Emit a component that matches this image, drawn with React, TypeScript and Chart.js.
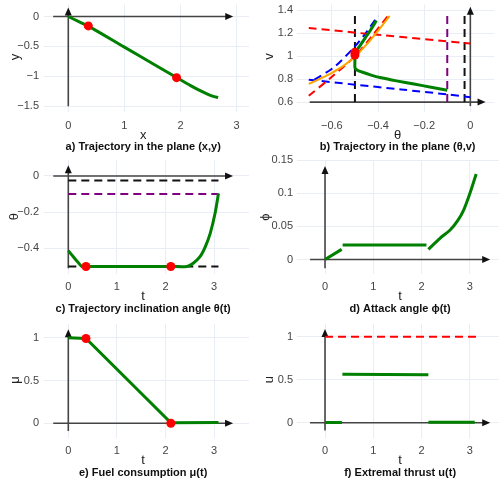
import React, { useEffect, useRef } from "react";
import { Chart, registerables } from "chart.js";

Chart.register(...registerables);

const W = 499;
const H = 486;
const FONT = "'Liberation Sans', Arial, Helvetica, sans-serif";
const GRID = "#e9eef6";
const AXIS = "#444444";

// ---------- a) Trajectory in the plane (x,y)
const aTicksX = [0, 1, 2, 3];
const aTicksY = [0, -0.5, -1, -1.5];
const aPathX = [0, 0.18, 0.357, 1.0, 1.5, 1.93, 2.18, 2.35, 2.5, 2.6, 2.67];
const aPathY = [0, -0.082, -0.16, -0.511, -0.784, -1.02, -1.156, -1.24, -1.305, -1.338, -1.355];
const aDotX = [0.357, 1.93];
const aDotY = [-0.157, -1.022];

// ---------- b) Trajectory in the plane (theta,v)
const bTicksX = [-0.6, -0.4, -0.2, 0];
const bTicksY = [0.6, 0.8, 1, 1.2, 1.4];
const bGreenTheta = [-0.407, -0.43, -0.455, -0.48, -0.5, -0.5, -0.5, -0.49, -0.47, -0.43, -0.386, -0.32, -0.244, -0.17, -0.1];
const bGreenV = [1.311, 1.235, 1.16, 1.085, 1.03, 0.96, 0.9, 0.878, 0.862, 0.835, 0.812, 0.785, 0.757, 0.73, 0.703];
const bOrangeTheta = [-0.7, -0.65, -0.6, -0.55, -0.5, -0.45, -0.4, -0.35];
const bOrangeV = [0.758, 0.805, 0.855, 0.915, 0.995, 1.1, 1.22, 1.35];
const bRedFlatTheta = [-0.7, -0.4, 0];
const bRedFlatV = [1.245, 1.186, 1.11];
const bRedSteepTheta = [-0.7, -0.6, -0.5, -0.42, -0.357];
const bRedSteepV = [0.655, 0.82, 1.0, 1.19, 1.352];
const bBlueFlatTheta = [-0.7, -0.5, -0.3, -0.1, 0];
const bBlueFlatV = [0.795, 0.752, 0.71, 0.667, 0.642];
const bBlueSteepTheta = [-0.675, -0.59, -0.5, -0.45, -0.4];
const bBlueSteepV = [0.795, 0.905, 1.085, 1.21, 1.352];
const bVertBlack = [-0.5, -0.025];
const bVertPurple = [-0.1];
const bVertSpan = [0.6, 1.37];
const bDotTheta = [-0.5, -0.5];
const bDotV = [1.035, 1.01];

// ---------- c) Trajectory inclination angle theta(t)
const cTicksX = [0, 1, 2, 3];
const cTicksY = [0, -0.2, -0.4];
const cT = [0, 0.1, 0.2, 0.28, 0.364, 1.0, 2.11, 2.44, 2.57, 2.71, 2.82, 2.92, 3.02, 3.09];
const cTheta = [-0.413, -0.445, -0.477, -0.5, -0.5, -0.5, -0.5, -0.5, -0.482, -0.446, -0.39, -0.317, -0.206, -0.096];
const cDotT = [0.364, 2.11];
const cDotTheta = [-0.5, -0.5];
const cHorizBlack = [-0.025, -0.5];
const cHorizPurple = [-0.1];
const cHorizSpan = [0, 3.09];

// ---------- d) Attack angle phi(t)
const dTicksX = [0, 1, 2, 3];
const dTicksY = [0, 0.05, 0.1, 0.15];
const dT1 = [0, 0.345];
const dPhi1 = [0, 0.0153];
const dT2 = [0.365, 2.1];
const dPhi2 = [0.022, 0.022];
const dT3 = [2.14, 2.38, 2.59, 2.75, 2.87, 3.0, 3.13];
const dPhi3 = [0.0154, 0.032, 0.0445, 0.059, 0.0745, 0.0997, 0.129];

// ---------- e) Fuel consumption mu(t)
const eTicksX = [0, 1, 2, 3];
const eTicksY = [0, 0.5, 1];
const eT = [0, 0.364, 2.11, 3.09];
const eMu = [1.0, 0.99, 0.005, 0.01];
const eDotT = [0.364, 2.11];
const eDotMu = [0.99, 0.0];

// ---------- f) Extremal thrust u(t)
const fTicksX = [0, 1, 2, 3];
const fTicksY = [0, 0.5, 1];
const fT1 = [0, 0.35];
const fU1 = [0.002, 0.002];
const fT2 = [0.36, 2.14];
const fU2 = [0.565, 0.557];
const fT3 = [2.14, 3.1];
const fU3 = [0.006, 0.006];
const fLimitT = [0, 3.13];
const fLimitU = [1, 1];

const pts = (xs: number[], ys: number[]) => xs.map((x, i) => ({ x, y: ys[i] }));

const line = (xs: number[], ys: number[], color: string, width: number, dash: number[] = [], order = 2, tension = 0) => ({
  data: pts(xs, ys),
  showLine: true,
  borderColor: color,
  backgroundColor: color,
  borderWidth: width,
  borderDash: dash,
  borderCapStyle: "butt",
  pointRadius: 0,
  pointHoverRadius: 0,
  tension,
  order,
});

const dots = (xs: number[], ys: number[]) => ({
  data: pts(xs, ys),
  showLine: false,
  pointRadius: 4.5,
  pointHoverRadius: 4.5,
  pointBackgroundColor: "red",
  pointBorderWidth: 0,
  order: 0,
});

const DASH = [8, 5];

const vLines = (xs: number[], span: number[], color: string) =>
  xs.map((x) => line([x, x], span, color, 2, DASH, 3));
const hLines = (ys: number[], span: number[], color: string) =>
  ys.map((y) => line(span, [y, y], color, 2, DASH, 3));

type Panel = {
  key: string;
  colLeft: number;
  box: { left: number; top: number; right: number; bottom: number };
  xMin: number; xMax: number; yMin: number; yMax: number;
  xTicks: number[]; yTicks: number[];
  axisX: { at: number; from: number; to: number };
  axisY: { at: number; from: number; to: number };
  xTitle: string; yTitle: string; caption: string;
  yTitleX: number; yPad: number;
  datasets: any[];
};

const panels: Panel[] = [
  {
    key: "a",
    colLeft: 0,
    box: { left: 44, top: 0, right: 249, bottom: 112 },
    xMin: -0.433, xMax: 3.221, yMin: -1.596, yMax: 0.201,
    xTicks: aTicksX, yTicks: aTicksY,
    axisX: { at: 0, from: -0.27, to: 2.94 },
    axisY: { at: 0, from: -1.5, to: 0.15 },
    xTitle: "x", yTitle: "y", caption: "a) Trajectory in the plane (x,y)",
    yTitleX: 15, yPad: 5,
    datasets: [line(aPathX, aPathY, "green", 3, [], 1, 0.3), dots(aDotX, aDotY)],
  },
  {
    key: "b",
    colLeft: 250,
    box: { left: 297, top: 0, right: 499, bottom: 112 },
    xMin: -0.751, xMax: 0.1047, yMin: 0.5138, yMax: 1.45,
    xTicks: bTicksX, yTicks: bTicksY,
    axisX: { at: 0.6, from: -0.696, to: 0.066 },
    axisY: { at: 0, from: 0.565, to: 1.43 },
    xTitle: "θ", yTitle: "v", caption: "b) Trajectory in the plane (θ,v)",
    yTitleX: 269, yPad: 4,
    datasets: [
      dots(bDotTheta, bDotV),
      line(bGreenTheta, bGreenV, "green", 3, [], 1, 0.2),
      line(bOrangeTheta, bOrangeV, "orange", 2, [], 2, 0.3),
      line(bRedFlatTheta, bRedFlatV, "red", 2, DASH, 3, 0.3),
      line(bRedSteepTheta, bRedSteepV, "red", 2, DASH, 3, 0.3),
      line(bBlueFlatTheta, bBlueFlatV, "blue", 2, DASH, 3, 0.3),
      line(bBlueSteepTheta, bBlueSteepV, "blue", 2, DASH, 3, 0.3),
      ...vLines(bVertBlack, bVertSpan, "#111"),
      ...vLines(bVertPurple, bVertSpan, "purple"),
    ],
  },
  {
    key: "c",
    colLeft: 0,
    box: { left: 44, top: 160, right: 249, bottom: 273.5 },
    xMin: -0.5, xMax: 3.718, yMin: -0.5387, yMax: 0.0884,
    xTicks: cTicksX, yTicks: cTicksY,
    axisX: { at: 0, from: -0.31, to: 3.39 },
    axisY: { at: 0, from: -0.51, to: 0.06 },
    xTitle: "t", yTitle: "θ", caption: "c) Trajectory inclination angle θ(t)",
    yTitleX: 14, yPad: 5,
    datasets: [
      dots(cDotT, cDotTheta),
      line(cT, cTheta, "green", 3, [], 1, 0.25),
      ...hLines(cHorizBlack, cHorizSpan, "#111"),
      ...hLines(cHorizPurple, cHorizSpan, "purple"),
    ],
  },
  {
    key: "d",
    colLeft: 250,
    box: { left: 297, top: 160, right: 499, bottom: 273.5 },
    xMin: -0.58, xMax: 3.602, yMin: -0.0211, yMax: 0.15,
    xTicks: dTicksX, yTicks: dTicksY,
    axisX: { at: 0, from: -0.31, to: 3.42 },
    axisY: { at: 0, from: -0.013, to: 0.141 },
    xTitle: "t", yTitle: "ϕ", caption: "d) Attack angle ϕ(t)",
    yTitleX: 265, yPad: 4,
    datasets: [
      line(dT1, dPhi1, "green", 3, [], 1),
      line(dT2, dPhi2, "green", 3, [], 1),
      line(dT3, dPhi3, "green", 3, [], 1, 0.3),
    ],
  },
  {
    key: "e",
    colLeft: 0,
    box: { left: 44, top: 324, right: 249, bottom: 437.5 },
    xMin: -0.5, xMax: 3.718, yMin: -0.166, yMax: 1.16,
    xTicks: eTicksX, yTicks: eTicksY,
    axisX: { at: 0, from: -0.31, to: 3.39 },
    axisY: { at: 0, from: -0.09, to: 1.1 },
    xTitle: "t", yTitle: "μ", caption: "e) Fuel consumption μ(t)",
    yTitleX: 15, yPad: 5,
    datasets: [dots(eDotT, eDotMu), line(eT, eMu, "green", 3, [], 1)],
  },
  {
    key: "f",
    colLeft: 250,
    box: { left: 297, top: 324, right: 499, bottom: 437.5 },
    xMin: -0.58, xMax: 3.602, yMin: -0.172, yMax: 1.148,
    xTicks: fTicksX, yTicks: fTicksY,
    axisX: { at: 0, from: -0.31, to: 3.42 },
    axisY: { at: 0, from: -0.09, to: 1.09 },
    xTitle: "t", yTitle: "u", caption: "f) Extremal thrust u(t)",
    yTitleX: 269, yPad: 4,
    datasets: [
      line(fT1, fU1, "green", 3, [], 1),
      line(fT2, fU2, "green", 3, [], 1),
      line(fT3, fU3, "green", 3, [], 1),
      line(fLimitT, fLimitU, "red", 2, DASH, 3),
    ],
  },
];

const X_SCALE_H = 24;

const fmt = (v: number) => {
  const r = Math.round(v * 1000) / 1000;
  return String(r).replace("-", "\u2212");
};

function decor(p: Panel) {
  return {
    id: "decor" + p.key,
    beforeDatasetsDraw(chart: any) {
      const { ctx } = chart;
      const x = chart.scales.x;
      const y = chart.scales.y;
      ctx.save();
      ctx.strokeStyle = AXIS;
      ctx.fillStyle = "#111";
      ctx.lineWidth = 1.6;
      const hy = y.getPixelForValue(p.axisX.at);
      const hx0 = x.getPixelForValue(p.axisX.from);
      const hx1 = x.getPixelForValue(p.axisX.to);
      ctx.beginPath();
      ctx.moveTo(hx0, hy);
      ctx.lineTo(hx1 - 5, hy);
      ctx.stroke();
      ctx.beginPath();
      ctx.moveTo(hx1, hy);
      ctx.lineTo(hx1 - 8, hy - 3.5);
      ctx.lineTo(hx1 - 8, hy + 3.5);
      ctx.closePath();
      ctx.fill();
      const vx = x.getPixelForValue(p.axisY.at);
      const vy0 = y.getPixelForValue(p.axisY.from);
      const vy1 = y.getPixelForValue(p.axisY.to);
      ctx.beginPath();
      ctx.moveTo(vx, vy0);
      ctx.lineTo(vx, vy1 + 5);
      ctx.stroke();
      ctx.beginPath();
      ctx.moveTo(vx, vy1);
      ctx.lineTo(vx - 3.5, vy1 + 8);
      ctx.lineTo(vx + 3.5, vy1 + 8);
      ctx.closePath();
      ctx.fill();
      ctx.restore();
    },
    afterDraw(chart: any) {
      const { ctx } = chart;
      const x = chart.scales.x;
      const y = chart.scales.y;
      const cx = (x.getPixelForValue(p.axisX.from) + x.getPixelForValue(p.axisX.to)) / 2;
      const cy = (y.getPixelForValue(p.axisY.from) + y.getPixelForValue(p.axisY.to)) / 2;
      ctx.save();
      ctx.fillStyle = "#222";
      ctx.textAlign = "center";
      ctx.textBaseline = "middle";
      ctx.font = `13px ${FONT}`;
      ctx.fillText(p.xTitle, cx, p.box.bottom + 23);
      ctx.fillStyle = "#111";
      ctx.font = `bold 11px ${FONT}`;
      ctx.fillText(p.caption, cx, p.box.bottom + 35);
      ctx.translate(p.yTitleX, cy);
      ctx.rotate(-Math.PI / 2);
      ctx.fillStyle = "#222";
      ctx.font = `13px ${FONT}`;
      ctx.fillText(p.yTitle, 0, 0);
      ctx.restore();
    },
  };
}

function makeConfig(p: Panel): any {
  const yWidth = p.box.left - p.colLeft;
  const fitX = (s: any) => {
    s.height = X_SCALE_H;
    s.paddingLeft = 0;
    s.paddingRight = 0;
    s.paddingTop = 0;
    s.paddingBottom = 0;
  };
  const fitY = (s: any) => {
    s.width = yWidth;
    s.paddingLeft = 0;
    s.paddingRight = 0;
    s.paddingTop = 0;
    s.paddingBottom = 0;
  };
  return {
    type: "scatter",
    data: { datasets: p.datasets },
    options: {
      animation: false,
      responsive: false,
      maintainAspectRatio: false,
      events: [],
      layout: {
        padding: {
          left: p.colLeft,
          top: p.box.top,
          right: W - p.box.right,
          bottom: H - p.box.bottom - X_SCALE_H,
        },
      },
      plugins: { legend: { display: false }, tooltip: { enabled: false }, title: { display: false } },
      scales: {
        x: {
          type: "linear",
          min: p.xMin,
          max: p.xMax,
          afterBuildTicks: (s: any) => {
            s.ticks = p.xTicks.map((v) => ({ value: v }));
          },
          afterFit: fitX,
          grid: { color: GRID, lineWidth: 1, drawTicks: false },
          border: { display: false },
          ticks: {
            autoSkip: false,
            maxRotation: 0,
            padding: 7,
            color: "#444",
            font: { family: FONT, size: 11 },
            callback: (v: number) => fmt(v),
          },
        },
        y: {
          type: "linear",
          min: p.yMin,
          max: p.yMax,
          afterBuildTicks: (s: any) => {
            s.ticks = p.yTicks.map((v) => ({ value: v }));
          },
          afterFit: fitY,
          grid: { color: GRID, lineWidth: 1, drawTicks: false },
          border: { display: false },
          ticks: {
            autoSkip: false,
            padding: p.yPad,
            color: "#444",
            font: { family: FONT, size: 11 },
            callback: (v: number) => fmt(v),
          },
        },
      },
    },
    plugins: [decor(p)],
  };
}

function PanelCanvas({ p }: { p: Panel }) {
  const ref = useRef<HTMLCanvasElement | null>(null);
  useEffect(() => {
    if (!ref.current) return;
    const chart = new Chart(ref.current, makeConfig(p));
    return () => chart.destroy();
  }, [p]);
  return (
    <canvas
      ref={ref}
      width={W}
      height={H}
      style={{ position: "absolute", left: 0, top: 0, width: W, height: H, display: "block" }}
    />
  );
}

export default function App() {
  return (
    <div style={{ position: "fixed", left: 0, top: 0, width: W, height: H, background: "#ffffff", overflow: "hidden" }}>
      {panels.map((p) => (
        <PanelCanvas key={p.key} p={p} />
      ))}
    </div>
  );
}
